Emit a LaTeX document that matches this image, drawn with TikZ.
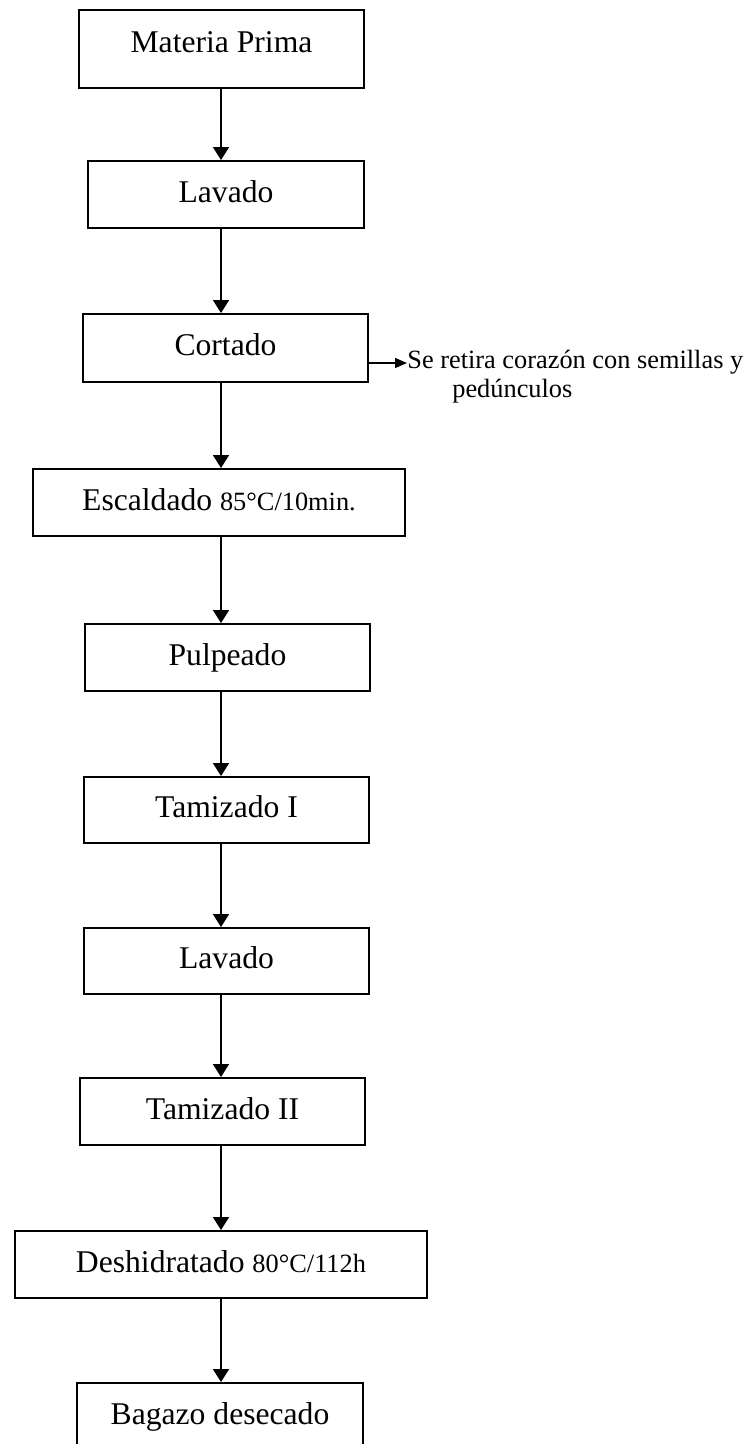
\documentclass[tikz,border=0pt]{standalone}
\usepackage{fontspec}
\setmainfont{Liberation Serif}
\usetikzlibrary{arrows.meta,positioning}
\newcommand{\condtxt}[1]{{\fontsize{15}{16}\selectfont #1}}

\begin{document}
\begin{tikzpicture}[
  x=0.02cm, y=-0.02cm,
  every node/.style={font=\fontsize{18}{21}\selectfont},
  procbox/.style={draw, line width=1.1pt, inner sep=0pt, text height=0.45cm, text depth=0.15cm},
  flow/.style={line width=0.9pt, -{Triangle[length=0.26cm,width=0.32cm]}},
]

\useasboundingbox (0,0) rectangle (755,1444);

%% Process steps: name/label/centre x/centre y/width/height (scan px)
\node[procbox, minimum width=285*0.02cm, minimum height=78*0.02cm, text depth=0.33cm]
  (mp) at (221.5,49) {Materia Prima};
\foreach \nm/\lab/\xc/\yc/\w/\h in {
  lav1/{Lavado}/226/194.5/276/67,
  cort/{Cortado}/225.5/348/285/68,
  esc/{Escaldado \condtxt{85°C/10min.}}/219/502.5/372/67,
  pulp/{Pulpeado}/227.5/657.5/285/67,
  tam1/{Tamizado I}/226.5/810/285/66,
  lav2/{Lavado}/226.5/961/285/66,
  tam2/{Tamizado II}/222.5/1111.5/285/67,
  desh/{Deshidratado \condtxt{80°C/112h}}/221/1264.5/412/67,
  bag/{Bagazo desecado}/220/1416.5/286/67%
}{
  \node[procbox, minimum width=\w*0.02cm, minimum height=\h*0.02cm] (\nm) at (\xc,\yc) {\lab};
}

%% Main flow, all arrows on one vertical line
\coordinate (axis) at (221,0);
\foreach \a/\b in {mp/lav1, lav1/cort, cort/esc, esc/pulp, pulp/tam1, tam1/lav2, lav2/tam2, tam2/desh, desh/bag}{
  \draw[flow] (\a.south -| axis) -- (\b.north -| axis);
}

%% Side output of the cutting step
\coordinate (cut) at (407,363);
\draw[line width=0.9pt, -{Triangle[length=0.24cm,width=0.2cm]}] (cort.east |- cut) -- (cut);
\node[anchor=north west, inner sep=0pt, align=left, font=\fontsize{15}{16.5}\selectfont]
  (note) at (407,350) {Se retira corazón con semillas y\\\hspace*{0.9cm}pedúnculos};

\end{tikzpicture}
\end{document}
